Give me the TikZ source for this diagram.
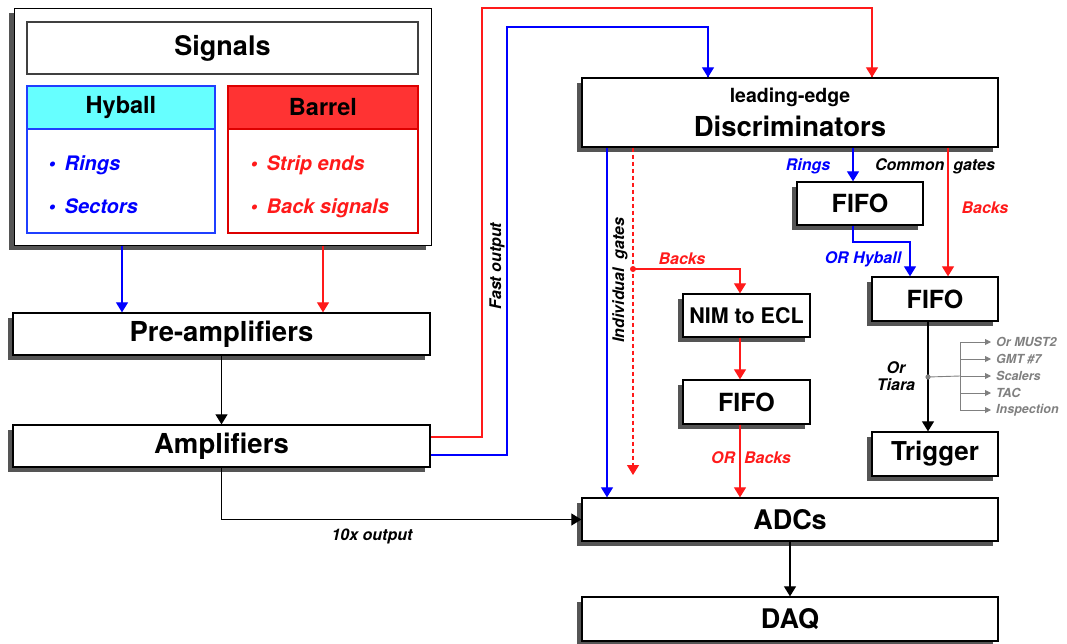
\documentclass[tikz,border=0pt]{standalone}
\usepackage{fontspec}
\setmainfont{TeX Gyre Heros}
\usetikzlibrary{arrows.meta,shadows,calc}
\definecolor{cyanh}{HTML}{66FFFF}
\definecolor{redh}{HTML}{FF3333}
\definecolor{redb}{HTML}{DD0000}
\definecolor{blueb}{HTML}{1F3FFF}
\definecolor{lred}{HTML}{FF1A1A}
\definecolor{lblue}{HTML}{0000FF}
\definecolor{shad}{HTML}{555555}
\definecolor{grl}{HTML}{808080}
\newcommand{\myfs}[1]{\fontsize{#1}{#1}\selectfont}
\tikzset{
  box/.style={draw=black, line width=1.3pt, fill=white, inner sep=0pt,
    font=\bfseries\myfs{26},
    drop shadow={shadow xshift=-5pt, shadow yshift=-5pt, fill=shad, opacity=1}},
  conn/.style={line width=1.15pt},
  tipa/.style={-{Triangle[width=12pt,length=10pt]}},
  gtip/.style={draw=grl, line width=0.9pt, -{Triangle[width=6pt,length=6pt]}},
  lab/.style={font=\bfseries\itshape\myfs{16}, inner sep=1pt},
  glab/.style={font=\bfseries\itshape\myfs{12.5}, text=grl, inner sep=0pt, anchor=west},
  item/.style={font=\bfseries\itshape\myfs{20}, inner sep=0pt, anchor=base west},
}
\begin{document}
\begin{tikzpicture}[x=1pt,y=-1pt]
\useasboundingbox (0,0) rectangle (1067,643);

% Signals panel
\node[box, line width=1pt, minimum width=417pt, minimum height=237pt] (sigpanel) at (222.5,126.5) {};
\node[draw=black!75, line width=2.2pt, fill=white, minimum width=391pt, minimum height=52pt, inner sep=0pt, font=\bfseries\myfs{27}] (sigtitle) at (222.5,48) {Signals};
\node[draw=blueb, line width=1.3pt, fill=white, minimum width=188pt, minimum height=104pt, inner sep=0pt] (hyb) at (121,181) {};
\node[draw=blueb, line width=1.3pt, fill=cyanh, minimum width=188pt, minimum height=43pt, inner sep=0pt, font=\bfseries\myfs{23.5}] (hyh) at (121,107.5) {Hyball};
\node[draw=redb, line width=1.3pt, fill=white, minimum width=190pt, minimum height=104pt, inner sep=0pt] (bab) at (323,181) {};
\node[draw=redb, line width=1.3pt, fill=redh, minimum width=190pt, minimum height=43pt, inner sep=0pt, font=\bfseries\myfs{23.5}] (bah) at (323,107.5) {Barrel};
\node[item, text=lblue] (hy1) at (48.5,170) {\textbullet\hspace{9pt}Rings};
\node[item, text=lblue] (hy2) at (48.5,213) {\textbullet\hspace{9pt}Sectors};
\node[item, text=lred] (ba1) at (250.5,170) {\textbullet\hspace{9pt}Strip ends};
\node[item, text=lred] (ba2) at (250.5,213) {\textbullet\hspace{9pt}Back signals};

% Main boxes
\node[box, font=\bfseries\myfs{27.5}, minimum width=417pt, minimum height=42pt] (pre) at (221.5,334) {Pre-amplifiers};
\node[box, font=\bfseries\myfs{27.5}, minimum width=417pt, minimum height=42pt] (amp) at (221.5,446) {Amplifiers};
\node[box, minimum width=416pt, minimum height=69pt] (disc) at (790,112.5) {};
\node[inner sep=0pt, anchor=base, font=\bfseries\myfs{19.5}] (discA) at (790,102) {leading-edge};
\node[inner sep=0pt, anchor=base, font=\bfseries\myfs{27.5}] (discB) at (790,136) {Discriminators};
\node[box, font=\bfseries\myfs{25}, minimum width=126pt, minimum height=43pt] (fifoA) at (860,203.5) {FIFO};
\node[box, font=\bfseries\myfs{25}, minimum width=126pt, minimum height=44pt] (fifoB) at (935,299) {FIFO};
\node[box, font=\bfseries\myfs{21.5}, minimum width=127pt, minimum height=43pt] (nim) at (746.5,315.5) {NIM to ECL};
\node[box, font=\bfseries\myfs{25}, minimum width=127pt, minimum height=44pt] (fifoC) at (746.5,402) {FIFO};
\node[box, minimum width=126pt, minimum height=44pt] (trig) at (935,454) {Trigger};
\node[box, font=\bfseries\myfs{27}, minimum width=416pt, minimum height=43pt] (adc) at (790,519.5) {ADCs};
\node[box, font=\bfseries\myfs{27}, minimum width=416pt, minimum height=44pt] (daq) at (790,619) {DAQ};

% Signals to pre-amplifiers
\draw[conn, tipa, lblue] (122,0 |- sigpanel.south) -- (122,0 |- pre.north);
\draw[conn, tipa, lred] (323,0 |- sigpanel.south) -- (323,0 |- pre.north);
\draw[conn, tipa] (pre.south) -- (amp.north);

% Fast output
\draw[conn, lred] ([yshift=9pt]amp.east) -| (482,8) -| ([xshift=82pt]disc.north);
\draw[conn, lred, tipa] ([xshift=82pt]disc.north) ++(0,-10) -- ([xshift=82pt]disc.north);
\draw[conn, lblue] ([yshift=-9pt]amp.east) -| (507,27) -| ([xshift=-82pt]disc.north);
\draw[conn, lblue, tipa] ([xshift=-82pt]disc.north) ++(0,-10) -- ([xshift=-82pt]disc.north);
\node[lab, rotate=90] (fastlab) at (497,266) {Fast output};

% 10x output
\draw[conn, tipa] (amp.south) |- (adc.west);
\node[lab] (tenlab) at (372,536) {10x output};

% Individual gates
\draw[conn, tipa, lblue] (607,0 |- disc.south) -- (607,0 |- adc.north);
\coordinate (dashend) at (633,475);
\draw[conn, tipa, lred, dash pattern=on 4pt off 3pt] (633,0 |- disc.south) -- (dashend);
\node[lab, rotate=90] (indlab) at (620,280) {Individual\ \ gates};
\coordinate (bk) at (633,269);
\fill[lred] (bk) circle (3pt);
\draw[conn, tipa, lred] (bk) -| (740,0 |- nim.north);
\node[lab, text=lred] (backsA) at (682,259) {Backs};
\draw[conn, tipa, lred] (740,0 |- nim.south) -- (740,0 |- fifoC.north);
\draw[conn, tipa, lred] (740,0 |- fifoC.south) -- (740,0 |- adc.north);
\node[lab, text=lred] (orbacks) at (751,458) {OR\ \ Backs};

% Common gates branch
\draw[conn, tipa, lblue] (853,0 |- disc.south) -- (853,0 |- fifoA.north);
\node[lab, text=lblue] (ringlab) at (808,166) {Rings};
\node[lab] (comlab) at (935,166) {Common\ \ gates};
\draw[conn, tipa, lblue] (853,0 |- fifoA.south) |- (910,242) -- (910,0 |- fifoB.north);
\node[lab, text=lblue] (orhy) at (863,259) {OR Hyball};
\draw[conn, tipa, lred] (948,0 |- disc.south) -- (948,0 |- fifoB.north);
\node[lab, text=lred] (backsB) at (985,208) {Backs};

% Trigger
\draw[conn, tipa] (928,0 |- fifoB.south) -- (928,0 |- trig.north);
\node[lab, align=center] (tiara) at (896,376) {Or\\[1pt]Tiara};
\coordinate (gdot) at (928,377);
\fill[grl] (gdot) circle (2.6pt);
\node[glab] (g1) at (996,342) {Or MUST2};
\node[glab] (g2) at (996,359) {GMT \#7};
\node[glab] (g3) at (996,376) {Scalers};
\node[glab] (g4) at (996,393) {TAC};
\node[glab] (g5) at (996,410) {Inspection};
\draw[draw=grl, line width=0.9pt] (gdot) -- (960,0 |- g3.west);
\draw[draw=grl, line width=0.9pt] (960,0 |- g1.west) -- (960,0 |- g5.west);
\foreach \g in {g1,g2,g3,g4,g5}{
  \draw[gtip] (960,0 |- \g.west) -- ([xshift=-5pt]\g.west);
}

% ADC to DAQ
\draw[conn, tipa] (adc.south) -- (daq.north);
\end{tikzpicture}
\end{document}
